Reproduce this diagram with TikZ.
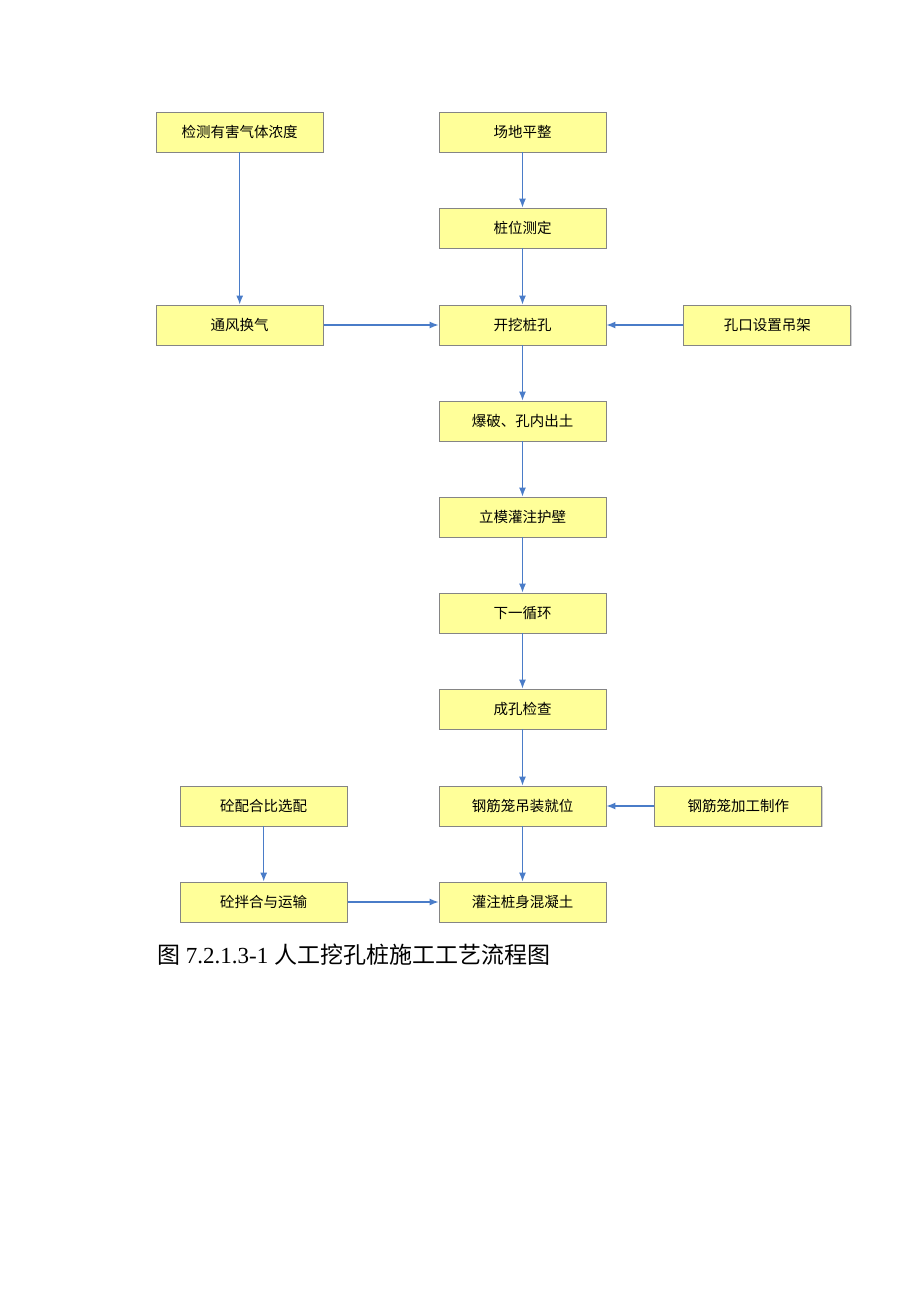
\documentclass[tikz,border=0pt]{standalone}
\usepackage{fontspec}
\setmainfont{Liberation Serif}
\newfontfamily\cjk{Noto Sans CJK SC}
\usetikzlibrary{positioning,shadows,arrows.meta}
\definecolor{boxfill}{HTML}{FFFF99}
\definecolor{boxline}{HTML}{858585}
\definecolor{flow}{HTML}{4A7CC8}

\begin{document}
\begin{tikzpicture}[x=1pt,y=1pt,
	stepbox/.style={rectangle, draw=boxline, fill=boxfill, line width=0.8pt,
		minimum width=167pt, minimum height=40pt, inner sep=0pt,
		font=\cjk\fontsize{14.5pt}{16pt}\selectfont,
		drop shadow={shadow xshift=1pt, shadow yshift=-1pt, fill=black!30, opacity=0.6}},
	arr/.style={-{Latex[length=9pt,width=7pt]}, draw=flow, line width=1.3pt},
	node distance=55.2pt]
	\useasboundingbox (0,0) rectangle (920,-1302);
	% middle column
	\node[stepbox] (pingzheng) at (522.5,-132) {场地平整};
	\node[stepbox, below=of pingzheng] (zhuangwei) {桩位测定};
	\node[stepbox, below=56.2pt of zhuangwei] (kaiwa) {开挖桩孔};
	\node[stepbox, below=of kaiwa] (baopo) {爆破、孔内出土};
	\node[stepbox, below=of baopo] (humo) {立模灌注护壁};
	\node[stepbox, below=of humo] (xunhuan) {下一循环};
	\node[stepbox, below=of xunhuan] (jiancha) {成孔检查};
	\node[stepbox, below=56.2pt of jiancha] (diaozhuang) {钢筋笼吊装就位};
	\node[stepbox, below=of diaozhuang] (guanzhu) {灌注桩身混凝土};
	% side boxes
	\node[stepbox, left=115pt of kaiwa] (tongfeng) {通风换气};
	\node[stepbox] (jiance) at (tongfeng |- pingzheng) {检测有害气体浓度};
	\node[stepbox, right=77pt of kaiwa] (diaojia) {孔口设置吊架};
	\node[stepbox, right=48pt of diaozhuang] (jiagong) {钢筋笼加工制作};
	\node[stepbox, left=91pt of guanzhu] (banhe) {砼拌合与运输};
	\node[stepbox] (peihe) at (banhe |- diaozhuang) {砼配合比选配};
	% arrows
	\draw[arr] (pingzheng) -- (zhuangwei);
	\draw[arr] (zhuangwei) -- (kaiwa);
	\draw[arr] (kaiwa) -- (baopo);
	\draw[arr] (baopo) -- (humo);
	\draw[arr] (humo) -- (xunhuan);
	\draw[arr] (xunhuan) -- (jiancha);
	\draw[arr] (jiancha) -- (diaozhuang);
	\draw[arr] (diaozhuang) -- (guanzhu);
	\draw[arr] (jiance) -- (tongfeng);
	\draw[arr] (tongfeng) -- (kaiwa);
	\draw[arr] (diaojia) -- (kaiwa);
	\draw[arr] (jiagong) -- (diaozhuang);
	\draw[arr] (peihe) -- (banhe);
	\draw[arr] (banhe) -- (guanzhu);
	% caption
	\node[anchor=west, inner sep=0pt, font=\fontsize{23pt}{27pt}\selectfont] (caption) at (157,-955)
		{{\cjk 图} 7.2.1.3-1 {\cjk 人工挖孔桩施工工艺流程图}};
\end{tikzpicture}
\end{document}
